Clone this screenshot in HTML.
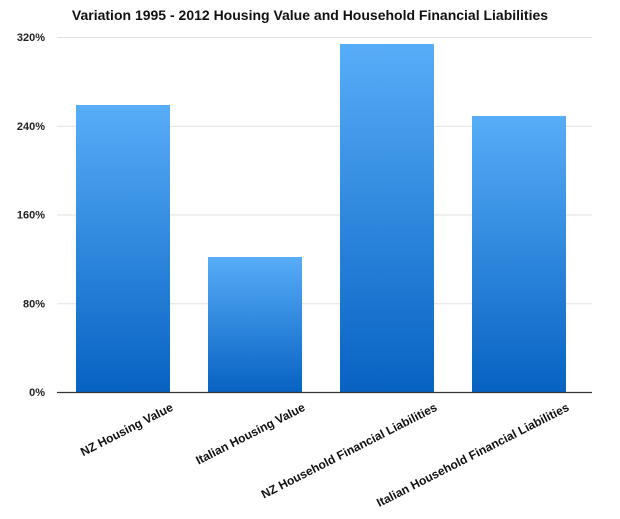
<!DOCTYPE html>
<html><head><meta charset="utf-8"><style>
body{margin:0;background:#fff;font-family:"Liberation Sans",sans-serif}
svg text{font-family:"Liberation Sans",sans-serif}
</style></head><body>
<svg width="620" height="514" viewBox="0 0 620 514">
<defs><linearGradient id="g" x1="0" y1="0" x2="0" y2="1"><stop offset="0" stop-color="#58adf8"/><stop offset="1" stop-color="#0762c2"/></linearGradient></defs>
<text x="310" y="20" text-anchor="middle" font-size="14" font-weight="bold" fill="#111">Variation 1995 - 2012 Housing Value and Household Financial Liabilities</text>
<g id="grid"></g><g id="bars"></g><g id="labels"></g>
<line x1="57" y1="392.5" x2="592" y2="392.5" stroke="#333" stroke-width="1.2"/>
</svg>
<script>
const categories=["NZ Housing Value","Italian Housing Value","NZ Household Financial Liabilities","Italian Household Financial Liabilities"];
const values=[258.7,121.7,313.7,248.8];
const ticks=[0,80,160,240,320];
const tickLabels=["0%","80%","160%","240%","320%"];
const NS="http://www.w3.org/2000/svg";
const y=v=>392-v/320*355;
const xLeft=i=>76+i*132;
const bw=94;
function mk(t,a,p){const e=document.createElementNS(NS,t);for(const k in a)e.setAttribute(k,a[k]);p.appendChild(e);return e;}
const G=document.getElementById('grid'),B=document.getElementById('bars'),L=document.getElementById('labels');
ticks.forEach((t,i)=>{
 if(t>0){const l=mk('line',{x1:57,x2:592,y1:y(t)+0.5,y2:y(t)+0.5,stroke:'#e2e2e2','stroke-width':1},G);
 
 }
 const tx=mk('text',{x:45,y:y(t)+4,'text-anchor':'end','font-size':11,'font-weight':'bold',fill:'#222'},G);
 tx.textContent=tickLabels[i];
 
 
});
categories.forEach((c,i)=>{
 const r=mk('rect',{x:xLeft(i),y:y(values[i]),width:bw,height:392-y(values[i]),fill:'url(#g)'},B);
 
 
 const ex=xLeft(i)+bw+4;
 const t=mk('text',{x:ex,y:410,'text-anchor':'end','font-size':12,'font-weight':'bold',fill:'#111',transform:`rotate(-27 ${ex} 410)`},L);
 t.textContent=c;
 
 
});
</script>
</body></html>
